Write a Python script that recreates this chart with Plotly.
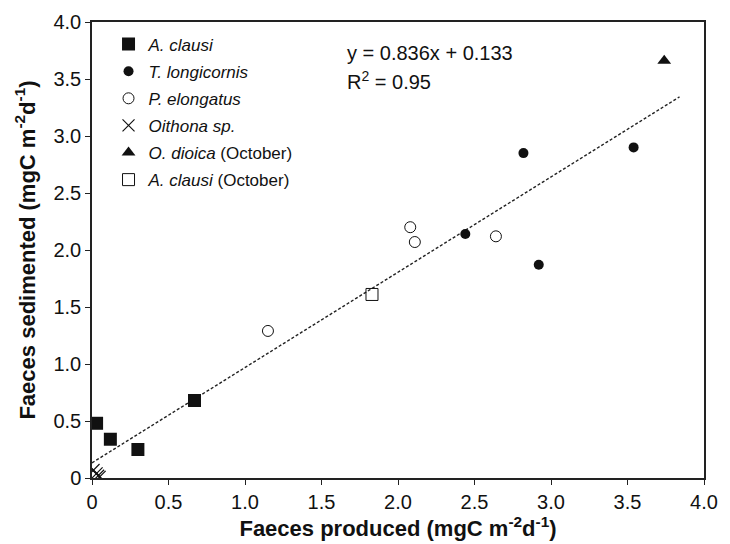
import plotly.graph_objects as go

# Data
aclausi_x = [0.03, 0.12, 0.30, 0.67]
aclausi_y = [0.48, 0.34, 0.25, 0.68]
tlong_x = [2.44, 2.82, 2.92, 3.54]
tlong_y = [2.14, 2.85, 1.87, 2.90]
pelong_x = [1.15, 2.08, 2.11, 2.64]
pelong_y = [1.29, 2.20, 2.07, 2.12]
oith_x = [0.01, 0.03, 0.04, 0.05]
oith_y = [0.07, 0.04, 0.02, 0.01]
odioica_x = [3.74]
odioica_y = [3.66]
aclausi_oct_x = [1.83]
aclausi_oct_y = [1.61]

slope, intercept = 0.836, 0.133
fit_x = [0.0, 3.84]
fit_y = [slope * v + intercept for v in fit_x]

tick_vals = [0, 0.5, 1.0, 1.5, 2.0, 2.5, 3.0, 3.5, 4.0]
tick_text = ["0", "0.5", "1.0", "1.5", "2.0", "2.5", "3.0", "3.5", "4.0"]

FONT = "Liberation Sans, Arial, sans-serif"
fig = go.Figure()

fig.add_trace(go.Scatter(x=fit_x, y=fit_y, mode="lines",
                         line=dict(color="#222", width=1.4, dash="3px,2px"),
                         showlegend=False, hoverinfo="skip"))

series = [
    ("<i>A. clausi</i>", aclausi_x, aclausi_y, dict(symbol="square", size=13, color="#111")),
    ("<i>T. longicornis</i>", tlong_x, tlong_y, dict(symbol="circle", size=10, color="#111")),
    ("<i>P. elongatus</i>", pelong_x, pelong_y, dict(symbol="circle-open", size=11, color="#111", line=dict(width=1))),
    ("<i>Oithona sp.</i>", oith_x, oith_y, dict(symbol="x-thin-open", size=12, color="#111", line=dict(width=1.2))),
    ("<i>O. dioica</i> (October)", odioica_x, odioica_y, dict(symbol="triangle-up", size=12, color="#111")),
    ("<i>A. clausi</i> (October)", aclausi_oct_x, aclausi_oct_y, dict(symbol="square-open", size=12, color="#111", line=dict(width=1))),
]
for i, (name, xs, ys, mk) in enumerate(series):
    fig.add_trace(go.Scatter(x=xs, y=ys, mode="markers", name=name, marker=mk,
                             legendgroup=f"g{i}"))

fig.add_annotation(x=0.413, y=0.933, xref="paper", yref="paper", xanchor="left", yanchor="middle",
                   text="y = 0.836x + 0.133", showarrow=False,
                   font=dict(family=FONT, size=20, color="#111"))
fig.add_annotation(x=0.413, y=0.871, xref="paper", yref="paper", xanchor="left", yanchor="middle",
                   text="R<sup>2</sup> = 0.95", showarrow=False,
                   font=dict(family=FONT, size=20, color="#111"))

axis_common = dict(range=[0, 4.0], tickvals=tick_vals, ticktext=tick_text,
                   showgrid=False, zeroline=False, showline=True, linecolor="#222",
                   linewidth=1.5, mirror=True, ticks="outside", ticklen=5,
                   tickcolor="#222", tickfont=dict(family=FONT, size=20, color="#111"),
                   automargin=False)

fig.update_layout(
    width=730, height=544,
    margin=dict(l=92, r=26, t=22, b=66),
    paper_bgcolor="white", plot_bgcolor="white",
    xaxis=dict(**axis_common,
               title=dict(text="<b>Faeces produced (mgC m<sup>-2</sup>d<sup>-1</sup>)</b>",
                          font=dict(family=FONT, size=22, color="#111"), standoff=9)),
    yaxis=dict(**axis_common,
               title=dict(text="<b>Faeces sedimented (mgC m<sup>-2</sup>d<sup>-1</sup>)</b>",
                          font=dict(family=FONT, size=22, color="#111"), standoff=12)),
    legend=dict(x=0.027, y=0.99, xanchor="left", yanchor="top",
                font=dict(family=FONT, size=17, color="#111"),
                bgcolor="rgba(0,0,0,0)", tracegroupgap=2, itemwidth=30),
    showlegend=True,
)

fig.write_html("out.html")
